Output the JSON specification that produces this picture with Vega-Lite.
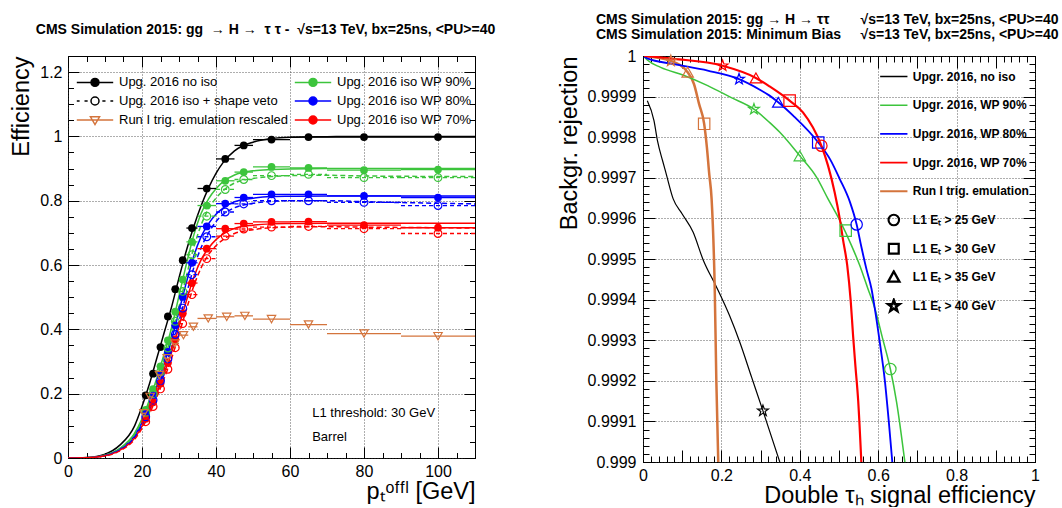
{
"$schema": "https://vega.github.io/schema/vega-lite/v6.json",
"background": "white",
"padding": {"left": 9, "top": 12, "right": 0, "bottom": 0},
"bounds": "flush",
"spacing": 168,
"config": {
  "font": "Liberation Sans",
  "view": {"stroke": "black", "strokeWidth": 1},
  "axis": {"domain": false, "labelFont": "Liberation Sans", "labelFontSize": 16, "labelColor": "black", "titleFont": "Liberation Sans", "titleFontSize": 23.5, "titleFontWeight": "normal", "titleColor": "black", "tickColor": "black", "gridColor": "#333333", "gridDash": [1, 2], "gridWidth": 0.8, "labelFlush": false, "labelOverlap": false},
  "title": {"font": "Liberation Sans", "fontWeight": "bold", "fontSize": 14, "color": "black"}
},
"datasets": {
  "lfitS": [
    {"x": 0, "noiso": 0, "wp90": 0, "wp80": 0, "wp70": 0},
    {"x": 5, "noiso": 0.0015, "wp90": 0.0011, "wp80": 0.001, "wp70": 0.0009},
    {"x": 10, "noiso": 0.012, "wp90": 0.009, "wp80": 0.008, "wp70": 0.0073},
    {"x": 14, "noiso": 0.04, "wp90": 0.03, "wp80": 0.027, "wp70": 0.024},
    {"x": 18, "noiso": 0.1, "wp90": 0.077, "wp80": 0.069, "wp70": 0.062},
    {"x": 20, "noiso": 0.16, "wp90": 0.122, "wp80": 0.11, "wp70": 0.099},
    {"x": 22, "noiso": 0.23, "wp90": 0.18, "wp80": 0.163, "wp70": 0.146},
    {"x": 24, "noiso": 0.31, "wp90": 0.248, "wp80": 0.224, "wp70": 0.201},
    {"x": 26, "noiso": 0.39, "wp90": 0.324, "wp80": 0.293, "wp70": 0.263},
    {"x": 28, "noiso": 0.47, "wp90": 0.405, "wp80": 0.367, "wp70": 0.329},
    {"x": 30, "noiso": 0.56, "wp90": 0.504, "wp80": 0.456, "wp70": 0.409},
    {"x": 32, "noiso": 0.645, "wp90": 0.603, "wp80": 0.546, "wp70": 0.489},
    {"x": 34, "noiso": 0.72, "wp90": 0.693, "wp80": 0.628, "wp70": 0.562},
    {"x": 36, "noiso": 0.785, "wp90": 0.761, "wp80": 0.689, "wp70": 0.617},
    {"x": 38, "noiso": 0.84, "wp90": 0.806, "wp80": 0.729, "wp70": 0.653},
    {"x": 40, "noiso": 0.885, "wp90": 0.837, "wp80": 0.758, "wp70": 0.679},
    {"x": 42, "noiso": 0.92, "wp90": 0.86, "wp80": 0.778, "wp70": 0.697},
    {"x": 45, "noiso": 0.955, "wp90": 0.88, "wp80": 0.797, "wp70": 0.714},
    {"x": 50, "noiso": 0.982, "wp90": 0.893, "wp80": 0.808, "wp70": 0.724},
    {"x": 55, "noiso": 0.993, "wp90": 0.897, "wp80": 0.813, "wp70": 0.728},
    {"x": 60, "noiso": 0.997, "wp90": 0.899, "wp80": 0.814, "wp70": 0.729},
    {"x": 70, "noiso": 0.999, "wp90": 0.9, "wp80": 0.815, "wp70": 0.73},
    {"x": 80, "noiso": 1.0, "wp90": 0.9, "wp80": 0.815, "wp70": 0.73},
    {"x": 110, "noiso": 1.0, "wp90": 0.9, "wp80": 0.815, "wp70": 0.73}
  ],
  "lfitD": [
    {"x": 0, "wp90": 0, "wp80": 0, "wp70": 0},
    {"x": 5, "wp90": 0.001, "wp80": 0.001, "wp70": 0.0008},
    {"x": 10, "wp90": 0.0085, "wp80": 0.0075, "wp70": 0.0068},
    {"x": 14, "wp90": 0.028, "wp80": 0.025, "wp70": 0.022},
    {"x": 18, "wp90": 0.073, "wp80": 0.064, "wp70": 0.058},
    {"x": 20, "wp90": 0.116, "wp80": 0.103, "wp70": 0.092},
    {"x": 22, "wp90": 0.17, "wp80": 0.153, "wp70": 0.137},
    {"x": 24, "wp90": 0.234, "wp80": 0.21, "wp70": 0.19},
    {"x": 26, "wp90": 0.305, "wp80": 0.273, "wp70": 0.248},
    {"x": 28, "wp90": 0.383, "wp80": 0.343, "wp70": 0.31},
    {"x": 30, "wp90": 0.47, "wp80": 0.425, "wp70": 0.385},
    {"x": 32, "wp90": 0.565, "wp80": 0.51, "wp70": 0.462},
    {"x": 34, "wp90": 0.655, "wp80": 0.592, "wp70": 0.535},
    {"x": 36, "wp90": 0.725, "wp80": 0.655, "wp70": 0.592},
    {"x": 38, "wp90": 0.775, "wp80": 0.7, "wp70": 0.633},
    {"x": 40, "wp90": 0.808, "wp80": 0.735, "wp70": 0.66},
    {"x": 42, "wp90": 0.832, "wp80": 0.758, "wp70": 0.68},
    {"x": 45, "wp90": 0.855, "wp80": 0.778, "wp70": 0.698},
    {"x": 50, "wp90": 0.869, "wp80": 0.792, "wp70": 0.71},
    {"x": 55, "wp90": 0.875, "wp80": 0.798, "wp70": 0.716},
    {"x": 60, "wp90": 0.878, "wp80": 0.8, "wp70": 0.718},
    {"x": 70, "wp90": 0.879, "wp80": 0.8, "wp70": 0.719},
    {"x": 80, "wp90": 0.877, "wp80": 0.797, "wp70": 0.718},
    {"x": 110, "wp90": 0.875, "wp80": 0.79, "wp70": 0.715}
  ],
  "lptsF": [
    {"x": 21, "xlo": 20, "xhi": 22, "noiso": 0.195, "wp90": 0.15, "wp80": 0.137, "wp70": 0.122},
    {"x": 23, "xlo": 22, "xhi": 24, "noiso": 0.262, "wp90": 0.214, "wp80": 0.194, "wp70": 0.173},
    {"x": 25, "xlo": 24, "xhi": 26, "noiso": 0.345, "wp90": 0.285, "wp80": 0.259, "wp70": 0.232},
    {"x": 27, "xlo": 26, "xhi": 28, "noiso": 0.44, "wp90": 0.366, "wp80": 0.33, "wp70": 0.296},
    {"x": 29, "xlo": 28, "xhi": 30, "noiso": 0.525, "wp90": 0.455, "wp80": 0.412, "wp70": 0.369},
    {"x": 31, "xlo": 30, "xhi": 32, "noiso": 0.615, "wp90": 0.555, "wp80": 0.501, "wp70": 0.449},
    {"x": 33.5, "xlo": 32, "xhi": 35, "noiso": 0.715, "wp90": 0.672, "wp80": 0.607, "wp70": 0.544},
    {"x": 37.5, "xlo": 35, "xhi": 40, "noiso": 0.838, "wp90": 0.785, "wp80": 0.72, "wp70": 0.651},
    {"x": 42.5, "xlo": 40, "xhi": 45, "noiso": 0.93, "wp90": 0.862, "wp80": 0.791, "wp70": 0.713},
    {"x": 47.5, "xlo": 45, "xhi": 50, "noiso": 0.972, "wp90": 0.889, "wp80": 0.81, "wp70": 0.729},
    {"x": 55, "xlo": 50, "xhi": 60, "noiso": 0.99, "wp90": 0.905, "wp80": 0.82, "wp70": 0.734},
    {"x": 65, "xlo": 60, "xhi": 70, "noiso": 0.998, "wp90": 0.902, "wp80": 0.82, "wp70": 0.735},
    {"x": 80, "xlo": 70, "xhi": 90, "noiso": 0.998, "wp90": 0.895, "wp80": 0.815, "wp70": 0.724},
    {"x": 100, "xlo": 90, "xhi": 110, "noiso": 0.998, "wp90": 0.897, "wp80": 0.81, "wp70": 0.716}
  ],
  "lptsO": [
    {"x": 21, "xlo": 20, "xhi": 22, "wp90": 0.142, "wp80": 0.128, "wp70": 0.113},
    {"x": 23, "xlo": 22, "xhi": 24, "wp90": 0.2, "wp80": 0.18, "wp70": 0.16},
    {"x": 25, "xlo": 24, "xhi": 26, "wp90": 0.268, "wp80": 0.24, "wp70": 0.215},
    {"x": 27, "xlo": 26, "xhi": 28, "wp90": 0.342, "wp80": 0.308, "wp70": 0.276},
    {"x": 29, "xlo": 28, "xhi": 30, "wp90": 0.425, "wp80": 0.384, "wp70": 0.343},
    {"x": 31, "xlo": 30, "xhi": 32, "wp90": 0.518, "wp80": 0.466, "wp70": 0.418},
    {"x": 33.5, "xlo": 32, "xhi": 35, "wp90": 0.632, "wp80": 0.57, "wp70": 0.508},
    {"x": 37.5, "xlo": 35, "xhi": 40, "wp90": 0.752, "wp80": 0.688, "wp70": 0.62},
    {"x": 42.5, "xlo": 40, "xhi": 45, "wp90": 0.835, "wp80": 0.765, "wp70": 0.69},
    {"x": 47.5, "xlo": 45, "xhi": 50, "wp90": 0.866, "wp80": 0.79, "wp70": 0.712},
    {"x": 55, "xlo": 50, "xhi": 60, "wp90": 0.878, "wp80": 0.8, "wp70": 0.718},
    {"x": 65, "xlo": 60, "xhi": 70, "wp90": 0.882, "wp80": 0.8, "wp70": 0.72},
    {"x": 80, "xlo": 70, "xhi": 90, "wp90": 0.872, "wp80": 0.795, "wp70": 0.713},
    {"x": 100, "xlo": 90, "xhi": 110, "wp90": 0.872, "wp80": 0.785, "wp70": 0.698}
  ],
  "lrun1": [
    {"x": 20.5, "xlo": 20, "xhi": 21, "y": 0.139},
    {"x": 22.2, "xlo": 21.5, "xhi": 23, "y": 0.19},
    {"x": 24.7, "xlo": 24, "xhi": 25.5, "y": 0.258},
    {"x": 26.8, "xlo": 26, "xhi": 27.5, "y": 0.31},
    {"x": 28.9, "xlo": 28, "xhi": 30, "y": 0.356},
    {"x": 31.2, "xlo": 30, "xhi": 32.5, "y": 0.382},
    {"x": 33.9, "xlo": 32.5, "xhi": 35, "y": 0.408},
    {"x": 37.9, "xlo": 35, "xhi": 40, "y": 0.434},
    {"x": 42.9, "xlo": 40, "xhi": 45, "y": 0.439},
    {"x": 47.8, "xlo": 45, "xhi": 50, "y": 0.442},
    {"x": 55, "xlo": 50, "xhi": 60, "y": 0.432},
    {"x": 65, "xlo": 60, "xhi": 70, "y": 0.415},
    {"x": 80, "xlo": 70, "xhi": 90, "y": 0.387},
    {"x": 100, "xlo": 90, "xhi": 110, "y": 0.379}
  ],
  "ltext": [
    {"x": 66, "y": 0.14, "t": "L1 threshold: 30 GeV"},
    {"x": 66, "y": 0.066, "t": "Barrel"}
  ],
  "lleg": [
    {"leg": "Upg. 2016 no iso"},
    {"leg": "Upg. 2016 iso + shape veto"},
    {"leg": "Run I trig. emulation rescaled"},
    {"leg": "Upg. 2016 iso WP 90%"},
    {"leg": "Upg. 2016 iso WP 80%"},
    {"leg": "Upg. 2016 iso WP 70%"}
  ],
  "rcurve": [
    {"s": "noiso", "x": 0.011, "y": 0.99989},
    {"s": "noiso", "x": 0.028, "y": 0.999841},
    {"s": "noiso", "x": 0.037, "y": 0.999791},
    {"s": "noiso", "x": 0.05, "y": 0.999742},
    {"s": "noiso", "x": 0.058, "y": 0.999714},
    {"s": "noiso", "x": 0.077, "y": 0.999648},
    {"s": "noiso", "x": 0.1, "y": 0.999611},
    {"s": "noiso", "x": 0.128, "y": 0.999566},
    {"s": "noiso", "x": 0.153, "y": 0.999499},
    {"s": "noiso", "x": 0.188, "y": 0.99943},
    {"s": "noiso", "x": 0.221, "y": 0.99936},
    {"s": "noiso", "x": 0.247, "y": 0.999295},
    {"s": "noiso", "x": 0.277, "y": 0.999209},
    {"s": "noiso", "x": 0.306, "y": 0.999126},
    {"s": "noiso", "x": 0.349, "y": 0.999},
    {"s": "run1", "x": 0.003, "y": 1.0},
    {"s": "run1", "x": 0.071, "y": 0.999988},
    {"s": "run1", "x": 0.114, "y": 0.99996},
    {"s": "run1", "x": 0.13, "y": 0.999931},
    {"s": "run1", "x": 0.143, "y": 0.999882},
    {"s": "run1", "x": 0.156, "y": 0.999833},
    {"s": "run1", "x": 0.163, "y": 0.999775},
    {"s": "run1", "x": 0.169, "y": 0.999709},
    {"s": "run1", "x": 0.175, "y": 0.999648},
    {"s": "run1", "x": 0.183, "y": 0.999426},
    {"s": "run1", "x": 0.187, "y": 0.999204},
    {"s": "run1", "x": 0.192, "y": 0.999},
    {"s": "wp90", "x": 0.003, "y": 0.999998},
    {"s": "wp90", "x": 0.011, "y": 0.99999},
    {"s": "wp90", "x": 0.045, "y": 0.999972},
    {"s": "wp90", "x": 0.105, "y": 0.999952},
    {"s": "wp90", "x": 0.165, "y": 0.999927},
    {"s": "wp90", "x": 0.224, "y": 0.999898},
    {"s": "wp90", "x": 0.283, "y": 0.999869},
    {"s": "wp90", "x": 0.322, "y": 0.999837},
    {"s": "wp90", "x": 0.349, "y": 0.999812},
    {"s": "wp90", "x": 0.4, "y": 0.999754},
    {"s": "wp90", "x": 0.443, "y": 0.999701},
    {"s": "wp90", "x": 0.472, "y": 0.999648},
    {"s": "wp90", "x": 0.502, "y": 0.999595},
    {"s": "wp90", "x": 0.532, "y": 0.999533},
    {"s": "wp90", "x": 0.553, "y": 0.999484},
    {"s": "wp90", "x": 0.574, "y": 0.999426},
    {"s": "wp90", "x": 0.591, "y": 0.99938},
    {"s": "wp90", "x": 0.611, "y": 0.999305},
    {"s": "wp90", "x": 0.631, "y": 0.999229},
    {"s": "wp90", "x": 0.647, "y": 0.999147},
    {"s": "wp90", "x": 0.668, "y": 0.999},
    {"s": "wp80", "x": 0.003, "y": 0.999999},
    {"s": "wp80", "x": 0.011, "y": 0.999994},
    {"s": "wp80", "x": 0.079, "y": 0.99998},
    {"s": "wp80", "x": 0.165, "y": 0.999964},
    {"s": "wp80", "x": 0.245, "y": 0.999943},
    {"s": "wp80", "x": 0.298, "y": 0.999917},
    {"s": "wp80", "x": 0.322, "y": 0.999903},
    {"s": "wp80", "x": 0.345, "y": 0.999886},
    {"s": "wp80", "x": 0.383, "y": 0.999853},
    {"s": "wp80", "x": 0.447, "y": 0.999787},
    {"s": "wp80", "x": 0.477, "y": 0.999746},
    {"s": "wp80", "x": 0.502, "y": 0.999697},
    {"s": "wp80", "x": 0.528, "y": 0.99964},
    {"s": "wp80", "x": 0.545, "y": 0.999585},
    {"s": "wp80", "x": 0.557, "y": 0.99953},
    {"s": "wp80", "x": 0.57, "y": 0.999475},
    {"s": "wp80", "x": 0.583, "y": 0.999426},
    {"s": "wp80", "x": 0.591, "y": 0.99938},
    {"s": "wp80", "x": 0.604, "y": 0.999295},
    {"s": "wp80", "x": 0.617, "y": 0.9992},
    {"s": "wp80", "x": 0.627, "y": 0.9991},
    {"s": "wp80", "x": 0.636, "y": 0.999},
    {"s": "wp70", "x": 0.003, "y": 1.0},
    {"s": "wp70", "x": 0.079, "y": 0.999993},
    {"s": "wp70", "x": 0.203, "y": 0.999976},
    {"s": "wp70", "x": 0.288, "y": 0.999946},
    {"s": "wp70", "x": 0.323, "y": 0.999925},
    {"s": "wp70", "x": 0.374, "y": 0.99989},
    {"s": "wp70", "x": 0.408, "y": 0.999861},
    {"s": "wp70", "x": 0.455, "y": 0.999779},
    {"s": "wp70", "x": 0.472, "y": 0.99973},
    {"s": "wp70", "x": 0.489, "y": 0.999664},
    {"s": "wp70", "x": 0.502, "y": 0.999599},
    {"s": "wp70", "x": 0.51, "y": 0.999549},
    {"s": "wp70", "x": 0.521, "y": 0.999484},
    {"s": "wp70", "x": 0.53, "y": 0.999395},
    {"s": "wp70", "x": 0.536, "y": 0.99931},
    {"s": "wp70", "x": 0.542, "y": 0.999235},
    {"s": "wp70", "x": 0.549, "y": 0.99915},
    {"s": "wp70", "x": 0.557, "y": 0.999}
  ],
  "rmark": [
    {"s": "run1", "t": "40", "x": 0.071, "y": 0.999988},
    {"s": "wp70", "t": "40", "x": 0.203, "y": 0.999976},
    {"s": "wp80", "t": "40", "x": 0.245, "y": 0.999943},
    {"s": "wp90", "t": "40", "x": 0.283, "y": 0.999869},
    {"s": "noiso", "t": "40", "x": 0.306, "y": 0.999126},
    {"s": "run1", "t": "35", "x": 0.114, "y": 0.99996},
    {"s": "wp70", "t": "35", "x": 0.288, "y": 0.999946},
    {"s": "wp80", "t": "35", "x": 0.345, "y": 0.999886},
    {"s": "wp90", "t": "35", "x": 0.4, "y": 0.999754},
    {"s": "run1", "t": "30", "x": 0.156, "y": 0.999833},
    {"s": "wp70", "t": "30", "x": 0.374, "y": 0.99989},
    {"s": "wp80", "t": "30", "x": 0.447, "y": 0.999787},
    {"s": "wp90", "t": "30", "x": 0.517, "y": 0.99957},
    {"s": "wp70", "t": "25", "x": 0.455, "y": 0.999779},
    {"s": "wp80", "t": "25", "x": 0.545, "y": 0.999585},
    {"s": "wp90", "t": "25", "x": 0.631, "y": 0.999229}
  ],
  "rleg": [
    {"leg": "Upgr. 2016, no iso"},
    {"leg": "Upgr. 2016, WP 90%"},
    {"leg": "Upgr. 2016, WP 80%"},
    {"leg": "Upgr. 2016, WP 70%"},
    {"leg": "Run I trig. emulation"},
    {"leg": "L1 Eₜ > 25 GeV"},
    {"leg": "L1 Eₜ > 30 GeV"},
    {"leg": "L1 Eₜ > 35 GeV"},
    {"leg": "L1 Eₜ > 40 GeV"}
  ]
},
"hconcat": [
{
  "width": 407, "height": 402,
  "title": {"text": "CMS Simulation 2015: gg\u00a0\u00a0→\u00a0H\u00a0→\u00a0\u00a0τ\u00a0τ\u00a0-\u00a0\u00a0√s=13 TeV, bx=25ns, <PU>=40", "anchor": "middle", "frame": "group", "offset": 19, "dx": -6},
  "layer": [
    {"layer": [
      {"data": {"name": "lfitS"}, "transform": [{"fold": ["noiso", "wp90", "wp80", "wp70"], "as": ["s", "y"]}],
       "mark": {"type": "line", "interpolate": "monotone", "strokeWidth": 1.5, "clip": true},
       "encoding": {
         "x": {"field": "x", "type": "quantitative", "scale": {"domain": [0, 110], "nice": false, "zero": false},
               "axis": {"orient": "bottom", "values": [0, 20, 40, 60, 80, 100], "ticks": false, "grid": true, "format": "~r", "labelPadding": 5, "title": "pₜᵒᶠᶠˡ [GeV]", "titleAnchor": "end", "titlePadding": 0}},
         "y": {"field": "y", "type": "quantitative", "scale": {"domain": [0, 1.25], "nice": false, "zero": false},
               "axis": {"orient": "left", "values": [0, 0.2, 0.4, 0.6, 0.8, 1, 1.2], "ticks": false, "grid": true, "format": "~r", "labelPadding": 6, "title": "Efficiency", "titleAnchor": "end", "titlePadding": 6}},
         "color": {"field": "s", "type": "nominal", "scale": {"domain": ["noiso", "wp90", "wp80", "wp70"], "range": ["#000000", "#3cc43c", "#0000ff", "#ff0000"]}, "legend": null}}},
      {"data": {"name": "lfitD"}, "transform": [{"fold": ["wp90", "wp80", "wp70"], "as": ["s", "y"]}],
       "mark": {"type": "line", "interpolate": "monotone", "strokeWidth": 1.5, "strokeDash": [5, 3], "clip": true},
       "encoding": {
         "x": {"field": "x", "type": "quantitative"},
         "y": {"field": "y", "type": "quantitative"},
         "color": {"field": "s", "type": "nominal", "legend": null}}},
      {"data": {"name": "lptsF"}, "transform": [{"fold": ["noiso", "wp90", "wp80", "wp70"], "as": ["s", "y"]}],
       "mark": {"type": "rule", "strokeWidth": 1.3},
       "encoding": {
         "x": {"field": "xlo", "type": "quantitative"}, "x2": {"field": "xhi"},
         "y": {"field": "y", "type": "quantitative"},
         "color": {"field": "s", "type": "nominal", "legend": null}}},
      {"data": {"name": "lptsO"}, "transform": [{"fold": ["wp90", "wp80", "wp70"], "as": ["s", "y"]}],
       "mark": {"type": "rule", "strokeWidth": 1.3, "strokeDash": [4, 3]},
       "encoding": {
         "x": {"field": "xlo", "type": "quantitative"}, "x2": {"field": "xhi"},
         "y": {"field": "y", "type": "quantitative"},
         "color": {"field": "s", "type": "nominal", "legend": null}}},
      {"data": {"name": "lptsF"}, "transform": [{"fold": ["noiso", "wp90", "wp80", "wp70"], "as": ["s", "y"]}],
       "mark": {"type": "point", "shape": "circle", "filled": true, "size": 60, "opacity": 1},
       "encoding": {
         "x": {"field": "x", "type": "quantitative"},
         "y": {"field": "y", "type": "quantitative"},
         "color": {"field": "s", "type": "nominal", "legend": null}}},
      {"data": {"name": "lptsO"}, "transform": [{"fold": ["wp90", "wp80", "wp70"], "as": ["s", "y"]}],
       "mark": {"type": "point", "shape": "circle", "filled": false, "size": 60, "strokeWidth": 1.2, "opacity": 1},
       "encoding": {
         "x": {"field": "x", "type": "quantitative"},
         "y": {"field": "y", "type": "quantitative"},
         "color": {"field": "s", "type": "nominal", "legend": null}}},
      {"data": {"name": "lrun1"},
       "mark": {"type": "rule", "strokeWidth": 1.3, "color": "#d4743c"},
       "encoding": {
         "x": {"field": "xlo", "type": "quantitative"}, "x2": {"field": "xhi"},
         "y": {"field": "y", "type": "quantitative"}}},
      {"data": {"name": "lrun1"},
       "mark": {"type": "point", "shape": "triangle-down", "filled": false, "size": 70, "strokeWidth": 1.2, "color": "#d4743c", "opacity": 1},
       "encoding": {
         "x": {"field": "x", "type": "quantitative"},
         "y": {"field": "y", "type": "quantitative"}}},
      {"data": {"name": "ltext"},
       "mark": {"type": "text", "align": "left", "baseline": "middle", "fontSize": 13, "font": "Liberation Sans", "color": "black"},
       "encoding": {
         "x": {"field": "x", "type": "quantitative"},
         "y": {"field": "y", "type": "quantitative"},
         "text": {"field": "t"}}}
    ]},
    {"data": {"name": "lleg"},
     "mark": {"type": "point", "filled": false, "opacity": 0},
     "encoding": {
       "color": {"field": "leg", "type": "nominal",
         "scale": {"domain": ["Upg. 2016 no iso", "Upg. 2016 iso + shape veto", "Run I trig. emulation rescaled", "Upg. 2016 iso WP 90%", "Upg. 2016 iso WP 80%", "Upg. 2016 iso WP 70%"],
                   "range": ["#000000", "#000000", "#d4743c", "#3cc43c", "#0000ff", "#ff0000"]},
         "legend": {"title": null, "orient": "none", "legendX": 8, "legendY": 18, "columns": 2, "columnPadding": 2, "rowPadding": 1, "symbolSize": 196, "symbolStrokeWidth": 1.5, "symbolOffset": 11, "labelOffset": 16, "labelFontSize": 13, "labelFont": "Liberation Sans", "labelColor": "black", "symbolOpacity": 1, "labelLimit": 400}},
       "fill": {"field": "leg", "type": "nominal",
         "scale": {"domain": ["Upg. 2016 no iso", "Upg. 2016 iso + shape veto", "Run I trig. emulation rescaled", "Upg. 2016 iso WP 90%", "Upg. 2016 iso WP 80%", "Upg. 2016 iso WP 70%"],
                   "range": ["#000000", "#ffffff", "#ffffff", "#3cc43c", "#0000ff", "#ff0000"]},
         "legend": {"title": null, "orient": "none", "legendX": 8, "legendY": 18, "columns": 2, "columnPadding": 2, "rowPadding": 1, "symbolSize": 196, "symbolStrokeWidth": 1.5, "symbolOffset": 11, "labelOffset": 16, "labelFontSize": 13, "labelFont": "Liberation Sans", "labelColor": "black", "symbolOpacity": 1, "labelLimit": 400}},
       "shape": {"field": "leg", "type": "nominal",
         "scale": {"domain": ["Upg. 2016 no iso", "Upg. 2016 iso + shape veto", "Run I trig. emulation rescaled", "Upg. 2016 iso WP 90%", "Upg. 2016 iso WP 80%", "Upg. 2016 iso WP 70%"],
                   "range": ["M-2.6,0H2.6M0.57,0A0.57,0.57,0,1,1,-0.57,0A0.57,0.57,0,1,1,0.57,0ZM0,-0.75L0,-0.75M0,0.75L0,0.75",
                             "M-2.6,0H-2.2M-1.5,0H-1.05M1.05,0H1.5M2.2,0H2.6M0.57,0A0.57,0.57,0,1,1,-0.57,0A0.57,0.57,0,1,1,0.57,0ZM0,-0.75L0,-0.75M0,0.75L0,0.75",
                             "M-2.6,0H2.6M-0.65,-0.45L0.65,-0.45L0,0.65ZM0,-0.75L0,-0.75M0,0.75L0,0.75",
                             "M-2.6,0H2.6M0.57,0A0.57,0.57,0,1,1,-0.57,0A0.57,0.57,0,1,1,0.57,0ZM0,-0.75L0,-0.75M0,0.75L0,0.75",
                             "M-2.6,0H2.6M0.57,0A0.57,0.57,0,1,1,-0.57,0A0.57,0.57,0,1,1,0.57,0ZM0,-0.75L0,-0.75M0,0.75L0,0.75",
                             "M-2.6,0H2.6M0.57,0A0.57,0.57,0,1,1,-0.57,0A0.57,0.57,0,1,1,0.57,0ZM0,-0.75L0,-0.75M0,0.75L0,0.75"]},
         "legend": {"title": null, "orient": "none", "legendX": 8, "legendY": 18, "columns": 2, "columnPadding": 2, "rowPadding": 1, "symbolSize": 196, "symbolStrokeWidth": 1.5, "symbolOffset": 11, "labelOffset": 16, "labelFontSize": 13, "labelFont": "Liberation Sans", "labelColor": "black", "symbolOpacity": 1, "labelLimit": 400}}}},
    {"data": {"name": "lptsF"}, "mark": {"type": "point", "opacity": 0},
     "encoding": {
       "x": {"field": "x", "type": "quantitative", "scale": {"domain": [0, 110], "nice": false, "zero": false}, "axis": {"orient": "bottom", "values": [0, 20, 40, 60, 80, 100], "tickSize": 11, "offset": -11, "labels": false, "grid": false, "domain": false, "title": null}},
       "y": {"field": "noiso", "type": "quantitative", "scale": {"domain": [0, 1.25], "nice": false, "zero": false}, "axis": {"orient": "left", "values": [0, 0.2, 0.4, 0.6, 0.8, 1, 1.2], "tickSize": 11, "offset": -11, "labels": false, "grid": false, "domain": false, "title": null}}}},
    {"data": {"name": "lptsF"}, "mark": {"type": "point", "opacity": 0},
     "encoding": {
       "x": {"field": "x", "type": "quantitative", "scale": {"domain": [0, 110], "nice": false, "zero": false}, "axis": {"orient": "bottom", "values": [0, 5, 10, 15, 20, 25, 30, 35, 40, 45, 50, 55, 60, 65, 70, 75, 80, 85, 90, 95, 100, 105, 110], "tickSize": 5.5, "offset": -5.5, "labels": false, "grid": false, "domain": false, "title": null}},
       "y": {"field": "noiso", "type": "quantitative", "scale": {"domain": [0, 1.25], "nice": false, "zero": false}, "axis": {"orient": "left", "values": [0, 0.05, 0.1, 0.15, 0.2, 0.25, 0.3, 0.35, 0.4, 0.45, 0.5, 0.55, 0.6, 0.65, 0.7, 0.75, 0.8, 0.85, 0.9, 0.95, 1, 1.05, 1.1, 1.15, 1.2, 1.25], "tickSize": 5.5, "offset": -5.5, "labels": false, "grid": false, "domain": false, "title": null}}}},
    {"data": {"name": "lptsF"}, "mark": {"type": "point", "opacity": 0},
     "encoding": {
       "x": {"field": "x", "type": "quantitative", "scale": {"domain": [0, 110], "nice": false, "zero": false}, "axis": {"orient": "top", "values": [0, 20, 40, 60, 80, 100], "tickSize": 11, "offset": -11, "labels": false, "grid": false, "domain": false, "title": null}},
       "y": {"field": "noiso", "type": "quantitative", "scale": {"domain": [0, 1.25], "nice": false, "zero": false}, "axis": {"orient": "right", "values": [0, 0.2, 0.4, 0.6, 0.8, 1, 1.2], "tickSize": 11, "offset": -11, "labels": false, "grid": false, "domain": false, "title": null}}}},
    {"data": {"name": "lptsF"}, "mark": {"type": "point", "opacity": 0},
     "encoding": {
       "x": {"field": "x", "type": "quantitative", "scale": {"domain": [0, 110], "nice": false, "zero": false}, "axis": {"orient": "top", "values": [0, 5, 10, 15, 20, 25, 30, 35, 40, 45, 50, 55, 60, 65, 70, 75, 80, 85, 90, 95, 100, 105, 110], "tickSize": 5.5, "offset": -5.5, "labels": false, "grid": false, "domain": false, "title": null}},
       "y": {"field": "noiso", "type": "quantitative", "scale": {"domain": [0, 1.25], "nice": false, "zero": false}, "axis": {"orient": "right", "values": [0, 0.05, 0.1, 0.15, 0.2, 0.25, 0.3, 0.35, 0.4, 0.45, 0.5, 0.55, 0.6, 0.65, 0.7, 0.75, 0.8, 0.85, 0.9, 0.95, 1, 1.05, 1.1, 1.15, 1.2, 1.25], "tickSize": 5.5, "offset": -5.5, "labels": false, "grid": false, "domain": false, "title": null}}}}
  ],
  "resolve": {"axis": {"x": "independent", "y": "independent"}, "scale": {"color": "independent", "fill": "independent", "shape": "independent"}}
},
{
  "width": 392, "height": 406,
  "title": {"text": ["CMS Simulation 2015: gg → H → ττ\u00a0\u00a0\u00a0\u00a0\u00a0\u00a0\u00a0\u00a0√s=13 TeV, bx=25ns, <PU>=40", "CMS Simulation 2015: Minimum Bias\u00a0\u00a0\u00a0\u00a0\u00a0√s=13 TeV, bx=25ns, <PU>=40"], "anchor": "start", "align": "left", "frame": "group", "dx": -47, "offset": 6, "lineHeight": 15},
  "layer": [
    {"layer": [
      {"data": {"name": "rcurve"},
       "mark": {"type": "line", "interpolate": "monotone", "clip": true},
       "encoding": {
         "x": {"field": "x", "type": "quantitative", "scale": {"domain": [0, 1], "nice": false, "zero": false},
               "axis": {"orient": "bottom", "values": [0, 0.1, 0.2, 0.3, 0.4, 0.5, 0.6, 0.7, 0.8, 0.9, 1], "ticks": false, "grid": true, "format": "~r", "labelPadding": 5, "title": "Double τₕ signal efficiency", "titleAnchor": "end", "titlePadding": 0}},
         "y": {"field": "y", "type": "quantitative", "scale": {"domain": [0.999, 1], "nice": false, "zero": false},
               "axis": {"orient": "left", "values": [0.999, 0.9991, 0.9992, 0.9993, 0.9994, 0.9995, 0.9996, 0.9997, 0.9998, 0.9999, 1], "ticks": false, "grid": true, "format": "~r", "labelPadding": 7, "title": "Backgr. rejection", "titleAnchor": "end", "titlePadding": 6}},
         "color": {"field": "s", "type": "nominal", "scale": {"domain": ["noiso", "wp90", "wp80", "wp70", "run1"], "range": ["#000000", "#3cc43c", "#0000ff", "#ff0000", "#d4743c"]}, "legend": null},
         "strokeWidth": {"field": "s", "type": "nominal", "scale": {"domain": ["noiso", "wp90", "wp80", "wp70", "run1"], "range": [1.2, 2.5, 2.5, 2.5, 1.5]}, "legend": null}}},
      {"data": {"name": "rmark"},
       "mark": {"type": "point", "filled": false, "size": 130, "strokeWidth": 1.2, "opacity": 1},
       "encoding": {
         "x": {"field": "x", "type": "quantitative"},
         "y": {"field": "y", "type": "quantitative"},
         "color": {"field": "s", "type": "nominal", "legend": null},
         "shape": {"field": "t", "type": "nominal", "scale": {"domain": ["25", "30", "35", "40"], "range": ["circle", "square", "triangle-up", "M0,-1L0.235,-0.324L0.951,-0.309L0.38,0.124L0.588,0.809L0,0.4L-0.588,0.809L-0.38,0.124L-0.951,-0.309L-0.235,-0.324Z"]}, "legend": null}}}
    ]},
    {"data": {"name": "rleg"},
     "mark": {"type": "point", "filled": false, "opacity": 0},
     "encoding": {
       "color": {"field": "leg", "type": "nominal",
         "scale": {"domain": ["Upgr. 2016, no iso", "Upgr. 2016, WP 90%", "Upgr. 2016, WP 80%", "Upgr. 2016, WP 70%", "Run I trig. emulation", "L1 Eₜ > 25 GeV", "L1 Eₜ > 30 GeV", "L1 Eₜ > 35 GeV", "L1 Eₜ > 40 GeV"],
                   "range": ["#000000", "#3cc43c", "#0000ff", "#ff0000", "#d4743c", "#000000", "#000000", "#000000", "#000000"]},
         "legend": {"title": null, "orient": "none", "legendX": 236.3, "legendY": 12.5, "symbolSize": 196, "symbolOffset": 6, "labelOffset": 10.5, "clipHeight": 16, "labelFontSize": 12, "labelFontWeight": "bold", "labelFont": "Liberation Sans", "labelColor": "black", "rowPadding": 12.7, "symbolOpacity": 1, "labelLimit": 300}},
       "strokeWidth": {"field": "leg", "type": "nominal",
         "scale": {"domain": ["Upgr. 2016, no iso", "Upgr. 2016, WP 90%", "Upgr. 2016, WP 80%", "Upgr. 2016, WP 70%", "Run I trig. emulation", "L1 Eₜ > 25 GeV", "L1 Eₜ > 30 GeV", "L1 Eₜ > 35 GeV", "L1 Eₜ > 40 GeV"],
                   "range": [1.5, 2.5, 2.5, 2.5, 2, 1, 1, 1, 1]},
         "legend": {"title": null, "orient": "none", "legendX": 236.3, "legendY": 12.5, "symbolSize": 196, "symbolOffset": 6, "labelOffset": 10.5, "clipHeight": 16, "labelFontSize": 12, "labelFontWeight": "bold", "labelFont": "Liberation Sans", "labelColor": "black", "rowPadding": 12.7, "symbolOpacity": 1, "labelLimit": 300}},
       "shape": {"field": "leg", "type": "nominal",
         "scale": {"domain": ["Upgr. 2016, no iso", "Upgr. 2016, WP 90%", "Upgr. 2016, WP 80%", "Upgr. 2016, WP 70%", "Run I trig. emulation", "L1 Eₜ > 25 GeV", "L1 Eₜ > 30 GeV", "L1 Eₜ > 35 GeV", "L1 Eₜ > 40 GeV"],
                   "range": ["M-1.95,0H1.95", "M-1.95,0H1.95", "M-1.95,0H1.95", "M-1.95,0H1.95", "M-1.95,0H1.95",
                             "M0.75,0A0.75,0.75,0,1,1,-0.75,0A0.75,0.75,0,1,1,0.75,0Z",
                             "M-0.7,-0.7H0.7V0.7H-0.7Z",
                             "M0,-0.85L0.8,0.6H-0.8Z",
                             "M0,-0.85L0.2,-0.275L0.808,-0.263L0.323,0.105L0.5,0.688L0,0.34L-0.5,0.688L-0.323,0.105L-0.808,-0.263L-0.2,-0.275Z"]},
         "legend": {"title": null, "orient": "none", "legendX": 236.3, "legendY": 12.5, "symbolSize": 196, "symbolOffset": 6, "labelOffset": 10.5, "clipHeight": 16, "labelFontSize": 12, "labelFontWeight": "bold", "labelFont": "Liberation Sans", "labelColor": "black", "rowPadding": 12.7, "symbolOpacity": 1, "labelLimit": 300}}}},
    {"data": {"name": "rmark"}, "mark": {"type": "point", "opacity": 0},
     "encoding": {
       "x": {"field": "x", "type": "quantitative", "scale": {"domain": [0, 1], "nice": false, "zero": false}, "axis": {"orient": "bottom", "values": [0, 0.1, 0.2, 0.3, 0.4, 0.5, 0.6, 0.7, 0.8, 0.9, 1], "tickSize": 12, "offset": -12, "labels": false, "grid": false, "domain": false, "title": null}},
       "y": {"field": "y", "type": "quantitative", "scale": {"domain": [0.999, 1], "nice": false, "zero": false}, "axis": {"orient": "left", "values": [0.999, 0.9991, 0.9992, 0.9993, 0.9994, 0.9995, 0.9996, 0.9997, 0.9998, 0.9999, 1], "tickSize": 12, "offset": -12, "labels": false, "grid": false, "domain": false, "title": null}}}},
    {"data": {"name": "rmark"}, "mark": {"type": "point", "opacity": 0},
     "encoding": {
       "x": {"field": "x", "type": "quantitative", "scale": {"domain": [0, 1], "nice": false, "zero": false}, "axis": {"orient": "bottom", "values": [0, 0.02, 0.04, 0.06, 0.08, 0.1, 0.12, 0.14, 0.16, 0.18, 0.2, 0.22, 0.24, 0.26, 0.28, 0.3, 0.32, 0.34, 0.36, 0.38, 0.4, 0.42, 0.44, 0.46, 0.48, 0.5, 0.52, 0.54, 0.56, 0.58, 0.6, 0.62, 0.64, 0.66, 0.68, 0.7, 0.72, 0.74, 0.76, 0.78, 0.8, 0.82, 0.84, 0.86, 0.88, 0.9, 0.92, 0.94, 0.96, 0.98, 1], "tickSize": 6, "offset": -6, "labels": false, "grid": false, "domain": false, "title": null}},
       "y": {"field": "y", "type": "quantitative", "scale": {"domain": [0.999, 1], "nice": false, "zero": false}, "axis": {"orient": "left", "values": [0.999, 0.99902, 0.99904, 0.99906, 0.99908, 0.9991, 0.99912, 0.99914, 0.99916, 0.99918, 0.9992, 0.99922, 0.99924, 0.99926, 0.99928, 0.9993, 0.99932, 0.99934, 0.99936, 0.99938, 0.9994, 0.99942, 0.99944, 0.99946, 0.99948, 0.9995, 0.99952, 0.99954, 0.99956, 0.99958, 0.9996, 0.99962, 0.99964, 0.99966, 0.99968, 0.9997, 0.99972, 0.99974, 0.99976, 0.99978, 0.9998, 0.99982, 0.99984, 0.99986, 0.99988, 0.9999, 0.99992, 0.99994, 0.99996, 0.99998, 1], "tickSize": 6, "offset": -6, "labels": false, "grid": false, "domain": false, "title": null}}}},
    {"data": {"name": "rmark"}, "mark": {"type": "point", "opacity": 0},
     "encoding": {
       "x": {"field": "x", "type": "quantitative", "scale": {"domain": [0, 1], "nice": false, "zero": false}, "axis": {"orient": "top", "values": [0, 0.1, 0.2, 0.3, 0.4, 0.5, 0.6, 0.7, 0.8, 0.9, 1], "tickSize": 12, "offset": -12, "labels": false, "grid": false, "domain": false, "title": null}},
       "y": {"field": "y", "type": "quantitative", "scale": {"domain": [0.999, 1], "nice": false, "zero": false}, "axis": {"orient": "right", "values": [0.999, 0.9991, 0.9992, 0.9993, 0.9994, 0.9995, 0.9996, 0.9997, 0.9998, 0.9999, 1], "tickSize": 12, "offset": -12, "labels": false, "grid": false, "domain": false, "title": null}}}},
    {"data": {"name": "rmark"}, "mark": {"type": "point", "opacity": 0},
     "encoding": {
       "x": {"field": "x", "type": "quantitative", "scale": {"domain": [0, 1], "nice": false, "zero": false}, "axis": {"orient": "top", "values": [0, 0.02, 0.04, 0.06, 0.08, 0.1, 0.12, 0.14, 0.16, 0.18, 0.2, 0.22, 0.24, 0.26, 0.28, 0.3, 0.32, 0.34, 0.36, 0.38, 0.4, 0.42, 0.44, 0.46, 0.48, 0.5, 0.52, 0.54, 0.56, 0.58, 0.6, 0.62, 0.64, 0.66, 0.68, 0.7, 0.72, 0.74, 0.76, 0.78, 0.8, 0.82, 0.84, 0.86, 0.88, 0.9, 0.92, 0.94, 0.96, 0.98, 1], "tickSize": 6, "offset": -6, "labels": false, "grid": false, "domain": false, "title": null}},
       "y": {"field": "y", "type": "quantitative", "scale": {"domain": [0.999, 1], "nice": false, "zero": false}, "axis": {"orient": "right", "values": [0.999, 0.99902, 0.99904, 0.99906, 0.99908, 0.9991, 0.99912, 0.99914, 0.99916, 0.99918, 0.9992, 0.99922, 0.99924, 0.99926, 0.99928, 0.9993, 0.99932, 0.99934, 0.99936, 0.99938, 0.9994, 0.99942, 0.99944, 0.99946, 0.99948, 0.9995, 0.99952, 0.99954, 0.99956, 0.99958, 0.9996, 0.99962, 0.99964, 0.99966, 0.99968, 0.9997, 0.99972, 0.99974, 0.99976, 0.99978, 0.9998, 0.99982, 0.99984, 0.99986, 0.99988, 0.9999, 0.99992, 0.99994, 0.99996, 0.99998, 1], "tickSize": 6, "offset": -6, "labels": false, "grid": false, "domain": false, "title": null}}}}
  ],
  "resolve": {"axis": {"x": "independent", "y": "independent"}, "scale": {"color": "independent", "shape": "independent", "strokeWidth": "independent"}}
}
]
}
